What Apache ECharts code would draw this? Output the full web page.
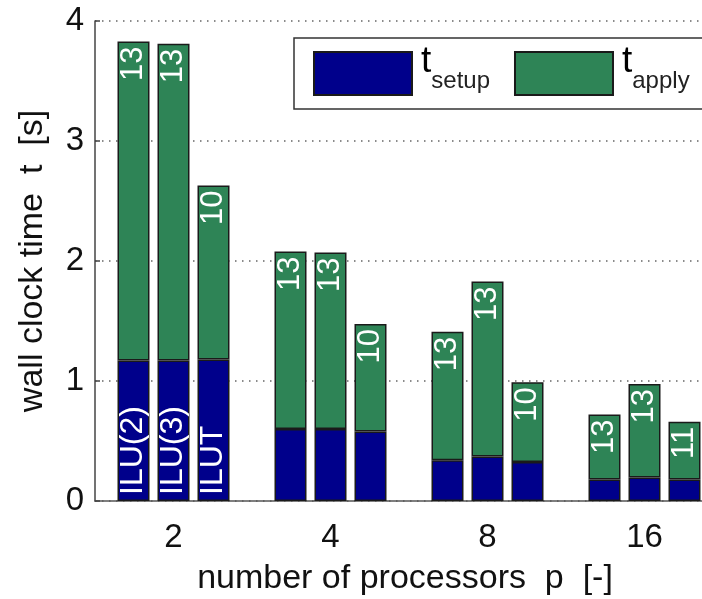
<!DOCTYPE html>
<html>
<head>
<meta charset="utf-8">
<title>wall clock time</title>
<script src="https://cdn.jsdelivr.net/npm/echarts@6/dist/echarts.min.js"></script>
<style>
  html, body { margin: 0; padding: 0; background: #fff; }
  #main { width: 702px; height: 599px; }
</style>
</head>
<body>
<div id="main"></div>
<script>
var categories = ['2', '4', '8', '16'];
var methods = ['ILU(2)', 'ILU(3)', 'ILUT'];
var yTicks = [0, 1, 2, 3, 4];

// setup time per method, one value per processor count
var setupIlu2 = [1.17, 0.60, 0.34, 0.18];
var setupIlu3 = [1.17, 0.60, 0.37, 0.195];
var setupIlut = [1.18, 0.58, 0.325, 0.18];

// apply time
var applyIlu2 = [2.66, 1.48, 1.07, 0.54];
var applyIlu3 = [2.64, 1.47, 1.46, 0.78];
var applyIlut = [1.45, 0.895, 0.665, 0.48];

// iteration counts shown on the bars
var itIlu2 = [13, 13, 13, 13];
var itIlu3 = [13, 13, 13, 13];
var itIlut = [10, 10, 10, 11];

var setups = [setupIlu2, setupIlu3, setupIlut];
var applies = [applyIlu2, applyIlu3, applyIlut];
var iters = [itIlu2, itIlu3, itIlut];

var FONT = '"Liberation Sans", Arial, sans-serif';
var navy = '#00008b';
var green = '#2e8456';

var myChart = echarts.init(document.getElementById('main'));

var series = [];
for (var i = 0; i < methods.length; i++) {
  (function (k) {
    series.push({
      name: 't_setup',
      type: 'bar',
      stack: methods[k],
      barWidth: 32,
      barGap: '25%',
      data: setups[k],
      itemStyle: {color: navy, borderColor: '#1a1a1a', borderWidth: 1.5},
      label: {
        show: true,
        position: 'insideBottom',
        rotate: 90,
        align: 'left',
        verticalAlign: 'middle',
        distance: 6,
        color: '#fff',
        fontFamily: FONT,
        fontSize: 32,
        formatter: function (p) {
          return p.dataIndex == 0 ? methods[k] : '';
        }
      }
    });
    series.push({
      name: 't_apply',
      type: 'bar',
      stack: methods[k],
      barWidth: 32,
      barGap: '25%',
      data: applies[k],
      itemStyle: {color: green, borderColor: '#1a1a1a', borderWidth: 1.5},
      label: {
        show: true,
        position: 'insideTop',
        rotate: 90,
        align: 'right',
        verticalAlign: 'middle',
        distance: 5,
        color: '#fff',
        fontFamily: FONT,
        fontSize: 31,
        formatter: function (p) {
          return String(iters[k][p.dataIndex]);
        }
      }
    });
  })(i);
}

myChart.setOption({
  animation: false,
  // the plot runs past the right edge of the picture, as in the original
  grid: {left: 95, top: 21, right: -21, bottom: 98, outerBoundsMode: 'none', containLabel: false},
  // legend frame, open on the right because the picture cuts it there
  graphic: [{
    type: 'rect',
    z: 90,
    shape: {x: 294, y: 38, width: 460, height: 71},
    style: {fill: '#fff', lineWidth: 0}
  }, {
    type: 'polyline',
    z: 91,
    shape: {points: [[760, 38], [294, 38], [294, 109], [760, 109]]},
    style: {fill: null, stroke: '#333', lineWidth: 1.5}
  }],
  legend: {
    data: ['t_setup', 't_apply'],
    orient: 'horizontal',
    left: 294,
    top: 38,
    width: 460,
    z: 100,
    borderWidth: 0,
    padding: [5, 0, 8, 19],
    itemGap: 24,
    itemWidth: 98,
    itemHeight: 43,
    icon: 'rect',
    formatter: function (name) {
      return '{t|t}{sub|' + name.split('_')[1] + '}';
    },
    textStyle: {
      fontFamily: FONT,
      rich: {
        t: {fontSize: 37, fontFamily: FONT, color: '#000', lineHeight: 32, padding: [0, 0, 24, 4]},
        sub: {fontSize: 24, fontFamily: FONT, color: '#222', lineHeight: 24, padding: [24, 0, 8, 0]}
      }
    }
  },
  xAxis: {
    type: 'category',
    data: categories,
    name: 'number of processors  p  [-]',
    nameLocation: 'middle',
    nameGap: 61,
    nameTextStyle: {fontFamily: FONT, fontSize: 34, color: '#111', padding: [0, 8, 0, 0]},
    axisLine: {lineStyle: {color: '#555', width: 1.5}},
    axisTick: {show: false},
    axisLabel: {fontFamily: FONT, fontSize: 33, color: '#111', margin: 20}
  },
  yAxis: {
    type: 'value',
    min: yTicks[0],
    max: yTicks[yTicks.length - 1],
    interval: 1,
    name: 'wall clock time  t  [s]',
    nameLocation: 'middle',
    nameGap: 45,
    nameTextStyle: {fontFamily: FONT, fontSize: 34, color: '#111'},
    axisLine: {show: true, lineStyle: {color: '#444', width: 1.5}},
    axisTick: {show: true, inside: true, length: 5, lineStyle: {color: '#444', width: 1.5}},
    axisLabel: {fontFamily: FONT, fontSize: 33, color: '#111', margin: 11},
    splitLine: {show: true, lineStyle: {color: '#666', width: 1.5, type: [1.5, 5.5]}}
  },
  series: series
});
</script>
</body>
</html>
